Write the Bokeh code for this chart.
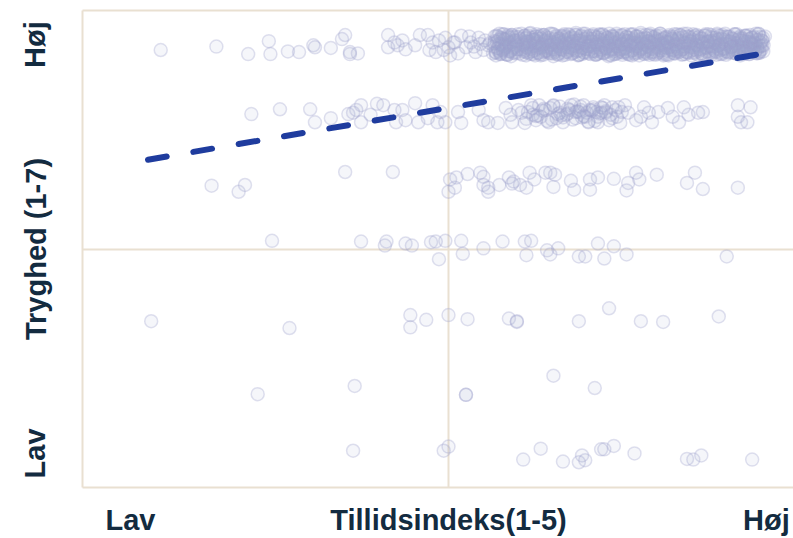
from bokeh.plotting import figure
from bokeh.models import FixedTicker, LinearAxis, Range1d
from bokeh.embed import file_html
from bokeh.resources import INLINE

# ---- data: Tillidsindeks (x, 1-5) and Tryghed (y, 1-7, jittered) ----
x_row7 = [1.19, 1.54, 1.74, 1.87, 1.88, 1.99, 2.06, 2.15, 2.16, 2.26, 2.35, 2.33, 2.38, 2.38,
          2.43, 2.62, 2.62, 2.66, 2.68, 2.71, 2.73, 2.79, 2.82, 2.87, 2.88, 2.90, 2.92, 2.94,
          2.97, 2.98, 3.00, 3.01, 3.03, 3.04, 3.06, 3.08, 3.11, 3.13, 3.14, 3.16, 3.17, 3.19,
          3.20, 3.22, 3.23, 3.25, 3.26, 3.28]
y_row7 = [6.92, 6.97, 6.86, 7.05, 6.86, 6.90, 6.89, 6.99, 6.96, 6.95, 7.14, 7.08, 6.89, 6.86,
          6.87, 7.14, 6.96, 7.03, 6.99, 7.06, 6.93, 6.99, 7.14, 7.14, 6.92, 7.03, 6.89, 7.06,
          6.92, 7.10, 6.96, 6.84, 7.03, 7.03, 6.87, 7.13, 6.96, 7.12, 7.03, 6.97, 6.89, 7.10,
          7.01, 6.92, 7.06, 6.99, 7.02, 6.87]

x_row7_dense = [
    3.29, 3.30, 3.31, 3.31, 3.32, 3.33, 3.34, 3.34, 3.35, 3.36, 3.37, 3.38, 3.38, 3.39, 3.40, 3.41, 3.42, 3.42, 3.43, 3.44,
    3.46, 3.48, 3.49, 3.50, 3.50, 3.51, 3.52, 3.53, 3.54, 3.54, 3.55, 3.56, 3.57, 3.58, 3.58, 3.59, 3.60, 3.61, 3.61, 3.62,
    3.63, 3.64, 3.65, 3.65, 3.66, 3.67, 3.68, 3.69, 3.69, 3.70, 3.71, 3.72, 3.73, 3.73, 3.74, 3.75, 3.76, 3.77, 3.77, 3.78,
    3.79, 3.80, 3.81, 3.81, 3.82, 3.83, 3.84, 3.85, 3.85, 3.86, 3.87, 3.88, 3.89, 3.89, 3.90, 3.91, 3.92, 3.93, 3.93, 3.94,
    3.95, 3.96, 3.97, 3.97, 3.98, 3.99, 4.00, 4.01, 4.01, 4.02, 4.03, 4.04, 4.05, 4.05, 4.06, 4.07, 4.08, 4.09, 4.09, 4.10,
    4.11, 4.12, 4.13, 4.13, 4.14, 4.15, 4.16, 4.17, 4.17, 4.18, 4.19, 4.20, 4.21, 4.21, 4.22, 4.23, 4.24, 4.25, 4.25, 4.26,
    4.27, 4.28, 4.29, 4.29, 4.30, 4.31, 4.32, 4.33, 4.33, 4.34, 4.35, 4.36, 4.37, 4.37, 4.38, 4.39, 4.40, 4.41, 4.41, 4.42,
    4.43, 4.44, 4.45, 4.46, 4.47, 4.48, 4.49, 4.50, 4.51, 4.52, 4.53, 4.54, 4.55, 4.56, 4.57, 4.58, 4.59, 4.60, 4.61, 4.62,
    4.63, 4.64, 4.65, 4.66, 4.67, 4.68, 4.69, 4.70, 4.71, 4.72, 4.73, 4.74, 4.75, 4.76, 4.77, 4.78, 4.79, 4.80, 4.81, 4.82,
    4.83, 4.84, 4.85, 4.86, 4.87, 4.88, 4.89, 4.90, 4.91, 4.92, 4.93, 4.94, 4.95, 4.96, 4.97, 4.98, 4.99, 4.85, 4.90, 4.95]
y_row7_dense = [
    7.05, 6.88, 7.12, 6.95, 7.01, 6.86, 7.15, 6.92, 7.08, 6.97, 6.85, 7.10, 7.03, 6.90, 7.14, 6.94, 7.06, 6.87, 6.99, 7.11,
    6.93, 7.13, 6.89, 7.04, 6.98, 7.16, 6.86, 7.07, 6.91, 7.02, 7.12, 6.88, 6.96, 7.09, 6.84, 7.00, 7.14, 6.90, 7.06, 6.95,
    7.10, 6.87, 7.03, 6.93, 7.15, 6.89, 7.01, 7.08, 6.85, 6.97, 7.13, 6.92, 7.05, 6.88, 7.11, 6.96, 7.02, 6.86, 7.09, 6.94,
    6.99, 7.14, 6.91, 7.06, 6.85, 7.12, 6.95, 7.03, 6.89, 7.16, 6.98, 6.87, 7.08, 6.93, 7.04, 7.13, 6.90, 7.00, 6.86, 7.11,
    7.07, 6.92, 7.15, 6.88, 7.02, 6.96, 7.10, 6.85, 7.05, 6.94, 7.13, 6.90, 6.99, 7.09, 6.87, 7.04, 6.93, 7.14, 6.89, 7.01,
    6.95, 7.11, 6.86, 7.06, 7.00, 6.91, 7.15, 6.88, 7.03, 6.97, 7.12, 6.84, 7.08, 6.94, 7.02, 6.89, 7.14, 6.98, 6.87, 7.05,
    7.13, 6.90, 7.04, 6.86, 7.09, 6.95, 7.01, 7.16, 6.92, 7.07, 6.88, 6.99, 7.11, 6.85, 7.03, 6.96, 7.10, 6.91, 7.06, 6.87,
    6.97, 7.08, 6.89, 7.14, 6.93, 7.02, 6.86, 7.12, 6.98, 7.05, 6.91, 7.15, 6.88, 7.00, 7.10, 6.94, 7.04, 6.85, 7.13, 6.96,
    7.03, 6.87, 7.11, 6.95, 7.06, 6.90, 7.14, 6.99, 6.86, 7.08, 6.93, 7.01, 7.12, 6.89, 7.05, 6.97, 6.88, 7.15, 6.92, 7.07,
    6.91, 7.09, 7.00, 6.86, 7.13, 6.96, 7.04, 6.89, 7.10, 6.94, 7.02, 6.87, 7.16, 6.98, 7.06, 6.90, 7.12, 6.95, 7.03, 6.88]

x_row7_dense2 = [
    3.285, 3.291, 3.299, 3.305, 3.314, 3.320, 3.327, 3.333, 3.341, 3.347,
    3.353, 3.362, 3.367, 3.374, 3.381, 3.389, 3.394, 3.402, 3.409, 3.415,
    3.421, 3.430, 3.436, 3.441, 3.452, 3.466, 3.472, 3.478, 3.483, 3.486,
    3.489, 3.497, 3.503, 3.511, 3.516, 3.524, 3.531, 3.537, 3.545, 3.551,
    3.557, 3.563, 3.571, 3.578, 3.584, 3.590, 3.598, 3.605, 3.611, 3.618,
    3.625, 3.632, 3.638, 3.646, 3.652, 3.659, 3.666, 3.672, 3.679, 3.686,
    3.693, 3.699, 3.707, 3.713, 3.720, 3.727, 3.733, 3.741, 3.747, 3.754,
    3.761, 3.768, 3.774, 3.781, 3.788, 3.795, 3.801, 3.809, 3.815, 3.822,
    3.829, 3.836, 3.842, 3.849, 3.856, 3.862, 3.870, 3.876, 3.883, 3.890,
    3.897, 3.903, 3.911, 3.917, 3.924, 3.931, 3.938, 3.944, 3.951, 3.958,
    3.965, 3.972, 3.978, 3.985, 3.992, 3.999, 4.006, 4.012, 4.019, 4.026,
    4.033, 4.040, 4.046, 4.053, 4.060, 4.067, 4.073, 4.080, 4.087, 4.094,
    4.101, 4.108, 4.114, 4.121, 4.128, 4.135, 4.141, 4.148, 4.155, 4.162,
    4.169, 4.176, 4.182, 4.189, 4.196, 4.203, 4.209, 4.216, 4.223, 4.230,
    4.237, 4.244, 4.250, 4.257, 4.264, 4.271, 4.277, 4.284, 4.291, 4.298,
    4.305, 4.312, 4.318, 4.325, 4.332, 4.339, 4.345, 4.352, 4.359, 4.366,
    4.373, 4.380, 4.386, 4.393, 4.400, 4.407, 4.413, 4.420, 4.427, 4.434,
    4.441, 4.448, 4.454, 4.461, 4.468, 4.475, 4.481, 4.488, 4.495, 4.502,
    4.509, 4.516, 4.522, 4.529, 4.536, 4.543, 4.549, 4.556, 4.563, 4.570,
    4.577, 4.584, 4.590, 4.597, 4.604, 4.611, 4.617, 4.624, 4.631, 4.638,
    4.645, 4.652, 4.658, 4.665, 4.672, 4.679, 4.685, 4.692, 4.699, 4.706,
    4.713, 4.720, 4.726, 4.733, 4.740, 4.747, 4.753, 4.760, 4.767, 4.774,
    4.781, 4.788, 4.794, 4.801, 4.808, 4.815, 4.821, 4.828, 4.835, 4.842,
    4.849, 4.856, 4.862, 4.869, 4.876, 4.883, 4.889, 4.896, 4.903, 4.910,
    4.917, 4.924, 4.930, 4.937, 4.944, 4.951, 4.957, 4.964, 4.971, 4.978]
y_row7_dense2 = [
    6.97, 7.12, 6.84, 7.04, 6.91, 7.16, 6.88, 7.01, 7.09, 6.94,
    7.07, 6.86, 6.99, 7.14, 6.90, 7.03, 6.83, 7.11, 6.96, 7.06,
    6.89, 7.02, 7.15, 6.93, 7.08, 6.85, 7.00, 7.13, 6.92, 7.05,
    7.10, 6.95, 6.87, 7.04, 7.17, 6.90, 6.98, 7.07, 6.84, 7.12,
    6.94, 7.09, 7.01, 6.86, 7.14, 6.97, 6.89, 7.05, 7.11, 6.92,
    7.03, 6.88, 7.16, 6.95, 7.00, 6.83, 7.08, 6.91, 7.13, 6.98,
    6.87, 7.06, 6.93, 7.11, 6.99, 7.15, 6.85, 7.02, 6.90, 7.09,
    7.14, 6.96, 7.04, 6.88, 7.10, 6.92, 7.17, 6.97, 6.84, 7.06,
    6.91, 7.13, 6.86, 7.01, 7.08, 6.94, 7.12, 6.89, 7.03, 6.98,
    7.05, 6.90, 7.15, 6.96, 6.85, 7.10, 7.00, 6.87, 7.14, 6.93,
    6.99, 7.07, 6.88, 7.12, 6.95, 7.03, 6.83, 7.16, 6.92, 7.08,
    7.11, 6.86, 7.02, 6.97, 7.13, 6.89, 7.06, 6.94, 7.00, 6.85,
    6.93, 7.15, 6.90, 7.05, 6.87, 7.10, 6.98, 7.14, 6.84, 7.02,
    7.08, 6.95, 7.12, 6.88, 7.01, 6.92, 7.17, 6.96, 7.04, 6.86,
    6.90, 7.09, 6.97, 7.14, 6.85, 7.03, 6.94, 7.11, 6.89, 7.06,
    7.13, 6.87, 7.05, 6.99, 7.16, 6.91, 7.02, 6.84, 7.10, 6.96,
    6.95, 7.04, 6.86, 7.12, 6.93, 7.08, 6.88, 7.15, 7.00, 6.90,
    7.06, 6.92, 7.14, 6.97, 6.85, 7.11, 6.94, 7.03, 6.89, 7.16,
    6.88, 7.10, 7.01, 6.84, 7.07, 6.96, 7.13, 6.91, 7.05, 6.98,
    7.12, 6.93, 6.87, 7.09, 7.02, 6.86, 7.15, 6.95, 7.04, 6.90,
    6.97, 7.14, 6.89, 7.03, 6.92, 7.10, 6.85, 7.07, 6.99, 7.13,
    7.01, 6.86, 7.11, 6.94, 7.16, 6.90, 7.05, 6.88, 7.12, 6.96,
    6.92, 7.08, 6.98, 7.15, 6.87, 7.02, 6.95, 7.10, 6.84, 7.06,
    7.09, 6.91, 7.13, 6.89, 7.04, 6.97, 6.86, 7.14, 6.93, 7.01,
    6.96, 7.11, 6.88, 7.07, 6.94, 7.15, 6.90, 7.03, 6.98, 7.10]

x_row7_dense3 = [
    3.288, 3.296, 3.302, 3.310, 3.317, 3.324, 3.330, 3.338, 3.344, 3.350,
    3.356, 3.364, 3.370, 3.378, 3.385, 3.392, 3.398, 3.406, 3.412, 3.418,
    3.424, 3.432, 3.438, 3.446, 3.460, 3.468, 3.474, 3.480, 3.484, 3.488,
    3.492, 3.500, 3.506, 3.514, 3.521, 3.528, 3.534, 3.542, 3.548, 3.554,
    3.560, 3.568, 3.574, 3.582, 3.589, 3.596, 3.602, 3.610, 3.616, 3.622,
    3.628, 3.636, 3.642, 3.650, 3.657, 3.664, 3.670, 3.678, 3.684, 3.690,
    3.696, 3.704, 3.710, 3.718, 3.725, 3.732, 3.738, 3.746, 3.752, 3.758,
    3.764, 3.772, 3.778, 3.786, 3.793, 3.800, 3.806, 3.814, 3.820, 3.826,
    3.832, 3.840, 3.846, 3.854, 3.861, 3.868, 3.874, 3.882, 3.888, 3.894,
    3.900, 3.908, 3.914, 3.922, 3.929, 3.936, 3.942, 3.950, 3.956, 3.962,
    3.968, 3.976, 3.982, 3.990, 3.997, 4.004, 4.010, 4.018, 4.024, 4.030,
    4.036, 4.044, 4.050, 4.058, 4.065, 4.072, 4.078, 4.086, 4.092, 4.098,
    4.104, 4.112, 4.118, 4.126, 4.133, 4.140, 4.146, 4.154, 4.160, 4.166,
    4.172, 4.180, 4.186, 4.194, 4.201, 4.208, 4.214, 4.222, 4.228, 4.234,
    4.240, 4.248, 4.254, 4.262, 4.269, 4.276, 4.282, 4.290, 4.296, 4.302,
    4.308, 4.316, 4.322, 4.330, 4.337, 4.344, 4.350, 4.358, 4.364, 4.370,
    4.376, 4.384, 4.390, 4.398, 4.405, 4.412, 4.418, 4.426, 4.432, 4.438,
    4.444, 4.452, 4.458, 4.466, 4.473, 4.480, 4.486, 4.494, 4.500, 4.506,
    4.512, 4.520, 4.526, 4.534, 4.541, 4.548, 4.554, 4.562, 4.568, 4.574,
    4.580, 4.588, 4.594, 4.602, 4.609, 4.616, 4.622, 4.630, 4.636, 4.642,
    4.648, 4.656, 4.662, 4.670, 4.677, 4.684, 4.690, 4.698, 4.704, 4.710,
    4.716, 4.724, 4.730, 4.738, 4.745, 4.752, 4.758, 4.766, 4.772, 4.778,
    4.784, 4.792, 4.798, 4.806, 4.813, 4.820, 4.826, 4.834, 4.840, 4.846,
    4.852, 4.860, 4.866, 4.874, 4.881, 4.888, 4.894, 4.902, 4.908, 4.914,
    4.920, 4.928, 4.934, 4.942, 4.949, 4.956, 4.962, 4.970, 4.976, 4.982]
y_row7_dense3 = [
    7.02, 6.89, 7.13, 6.94, 7.07, 6.86, 7.10, 6.98, 6.91, 7.15,
    6.95, 7.08, 6.85, 7.12, 7.00, 6.92, 7.14, 6.88, 7.04, 6.97,
    7.11, 6.93, 7.06, 6.87, 7.16, 6.99, 6.90, 7.03, 7.09, 6.84,
    6.96, 7.13, 6.89, 7.01, 6.94, 7.10, 6.86, 7.07, 6.98, 7.15,
    7.04, 6.88, 7.12, 6.95, 7.00, 6.85, 7.14, 6.91, 7.08, 6.97,
    6.90, 7.06, 6.99, 7.16, 6.87, 7.03, 6.93, 7.11, 6.86, 7.05,
    7.09, 6.94, 7.02, 6.84, 7.13, 6.96, 7.07, 6.89, 7.15, 7.00,
    6.92, 7.11, 6.87, 7.05, 6.98, 7.14, 6.90, 7.02, 6.85, 7.09,
    7.06, 6.95, 7.16, 6.88, 7.03, 6.93, 7.10, 6.97, 7.13, 6.86,
    6.99, 7.08, 6.91, 7.12, 6.85, 7.04, 6.96, 7.15, 6.89, 7.01,
    7.14, 6.87, 7.05, 6.94, 7.10, 6.90, 6.98, 7.07, 6.84, 7.12,
    6.93, 7.03, 6.86, 7.16, 6.97, 7.09, 6.91, 7.01, 7.13, 6.88,
    7.07, 6.95, 7.11, 6.89, 7.04, 6.85, 7.15, 6.99, 6.92, 7.06,
    6.86, 7.12, 6.98, 7.03, 6.90, 7.14, 6.94, 7.08, 6.87, 7.00,
    7.10, 6.92, 7.05, 6.96, 7.16, 6.88, 7.02, 6.93, 7.11, 6.85,
    6.97, 7.07, 6.89, 7.13, 6.95, 7.01, 6.86, 7.09, 7.04, 6.91,
    7.03, 6.84, 7.14, 6.98, 7.08, 6.92, 7.12, 6.87, 7.00, 7.15,
    6.94, 7.10, 6.90, 7.05, 6.86, 7.16, 6.97, 7.02, 6.89, 7.07,
    7.12, 6.96, 7.04, 6.88, 7.11, 6.93, 6.99, 7.14, 6.85, 7.06,
    6.91, 7.09, 6.87, 7.02, 6.95, 7.13, 6.90, 7.05, 7.15, 6.98,
    7.05, 6.86, 7.10, 6.97, 7.03, 6.89, 7.16, 6.94, 7.08, 6.92,
    6.88, 7.14, 6.95, 7.07, 6.85, 7.01, 7.11, 6.90, 7.04, 6.96,
    7.09, 6.93, 7.02, 6.87, 7.15, 6.98, 6.91, 7.12, 6.95, 7.06,
    6.97, 7.04, 6.89, 7.13, 6.92, 7.08, 6.86, 7.01, 7.10, 6.94,
    7.03, 6.90, 7.16, 6.96, 7.07, 6.88, 7.11, 6.93, 7.05, 6.99]

x_row6 = [1.76, 1.94, 2.13, 2.16, 2.26, 2.37, 2.40, 2.42, 2.45, 2.45, 2.51, 2.55, 2.59, 2.66,
          2.67, 2.71, 2.73, 2.79, 2.81, 2.87, 2.90, 2.93, 2.95, 2.98, 3.06, 3.08, 3.19, 3.22,
          3.25, 3.31, 3.36, 3.39, 3.40, 3.44, 3.48, 3.52, 3.53, 3.55, 3.57, 3.61, 3.63, 3.66,
          3.70, 3.72, 3.76, 3.80, 3.83, 3.85, 3.87, 3.88, 3.91, 3.93, 3.94, 3.97, 3.99, 4.01,
          4.03, 4.06, 4.08, 4.11, 4.13, 4.18, 4.21, 4.23, 4.26, 4.28, 4.32, 4.38, 4.41, 4.45,
          4.48, 4.51, 4.57, 4.60, 4.82, 4.90, 4.82, 4.84, 4.88,
          3.50, 3.58, 3.64, 3.68, 3.74, 3.77, 3.82, 3.86, 3.89, 3.94, 3.96, 3.98, 4.02, 4.05, 4.09,
          3.55, 3.60, 3.65, 3.70, 3.75, 3.79, 3.84, 3.90, 3.92, 3.96, 3.71, 3.81,
          3.46, 3.49, 3.53, 3.56, 3.59, 3.62, 3.66, 3.69, 3.72, 3.75, 3.78, 3.80, 3.83, 3.85,
          3.88, 3.91, 3.95, 3.99, 4.03, 4.07]
y_row6 = [5.98, 6.05, 6.05, 5.86, 5.92, 5.98, 6.00, 6.04, 6.11, 5.86, 5.97, 6.13, 6.11, 6.04,
          5.86, 6.04, 5.89, 6.14, 5.86, 5.92, 6.11, 5.86, 6.01, 5.86, 6.01, 5.85, 6.04, 5.89,
          5.86, 5.85, 6.07, 5.97, 5.86, 6.04, 5.85, 6.11, 5.97, 5.89, 6.11, 6.04, 5.86, 6.11,
          6.00, 5.86, 6.04, 5.92, 6.04, 6.11, 6.00, 5.86, 6.08, 6.01, 5.94, 6.07, 6.00, 5.89,
          6.08, 5.94, 5.85, 6.11, 6.00, 5.89, 5.94, 6.08, 6.00, 5.86, 6.01, 6.07, 5.94, 5.86,
          6.08, 5.97, 6.00, 6.01, 6.11, 6.08, 5.94, 5.86, 5.86,
          6.01, 5.94, 6.07, 5.92, 5.97, 6.11, 6.01, 5.94, 6.04, 5.86, 6.00, 6.11, 5.97, 6.04, 6.01,
          5.95, 6.06, 5.90, 6.09, 5.99, 6.12, 5.93, 6.03, 5.88, 6.08, 5.96, 6.02,
          6.00, 5.91, 6.07, 5.96, 6.03, 5.88, 6.10, 5.98, 5.93, 6.06, 5.90, 6.01, 6.09, 5.95,
          5.87, 6.05, 5.99, 6.02, 5.92, 6.08]

x_row5 = [1.51, 1.68, 1.72, 2.35, 2.65, 3.01, 3.00, 3.04, 3.05, 3.12, 3.20, 3.22, 3.22, 3.25,
          3.25, 3.32, 3.38, 3.40, 3.41, 3.45, 3.49, 3.51, 3.54, 3.61, 3.64, 3.67, 3.66, 3.77,
          3.79, 3.89, 3.89, 3.94, 4.04, 4.12, 4.13, 4.18, 4.20, 4.31, 4.50, 4.55, 4.60, 4.82]
y_row5 = [4.93, 4.84, 4.94, 5.13, 5.13, 5.02, 4.84, 4.90, 5.05, 5.10, 5.12, 5.06, 4.94, 4.90,
          4.84, 4.94, 5.05, 4.96, 4.99, 4.94, 4.90, 5.12, 5.02, 5.12, 5.12, 5.09, 4.91, 5.00,
          4.87, 4.87, 5.02, 5.05, 5.03, 4.86, 4.97, 5.12, 5.02, 5.09, 4.97, 5.12, 4.88, 4.90]

x_row4 = [1.89, 2.45, 2.61, 2.60, 2.73, 2.77, 2.89, 2.92, 2.98, 3.08, 2.94, 3.09, 3.22, 3.34,
          3.48, 3.52, 3.49, 3.62, 3.64, 3.69, 3.82, 3.86, 3.94, 3.98, 4.04, 4.12, 4.75]
y_row4 = [4.12, 4.11, 4.11, 4.05, 4.08, 4.05, 4.10, 4.11, 4.12, 4.12, 3.85, 3.93, 4.01, 4.11,
          4.11, 4.12, 3.91, 3.98, 3.92, 4.01, 3.89, 3.89, 4.08, 3.86, 4.04, 3.92, 3.89]

x_row3 = [1.13, 2.00, 2.76, 2.76, 2.86, 3.00, 3.12, 3.38, 3.43, 3.43, 3.82, 4.01, 4.21, 4.35, 4.70]
y_row3 = [2.94, 2.84, 3.03, 2.85, 2.96, 3.03, 2.97, 2.98, 2.94, 2.93, 2.94, 3.13, 2.94, 2.93, 3.01]

x_row2 = [1.80, 2.41, 3.11, 3.11, 3.66, 3.92]
y_row2 = [1.87, 1.99, 1.86, 1.86, 2.14, 1.96]

x_row1 = [2.40, 2.97, 3.00, 3.47, 3.58, 3.72, 3.84, 3.82, 3.86, 3.98, 3.96, 4.04, 4.17,
          4.50, 4.54, 4.59, 4.91]
y_row1 = [1.04, 1.04, 1.10, 0.91, 1.07, 0.88, 0.97, 0.87, 0.90, 1.06, 1.06, 1.11, 1.00,
          0.92, 0.91, 0.97, 0.91]

# fitted trend line
trend_x = [1.11, 4.98]
trend_y = [5.31, 6.87]

x_ticks = [1, 3, 5]
x_tick_labels = ["Lav", "Tillidsindeks(1-5)", "Høj"]
y_ticks = [1, 4, 7]
y_tick_labels = ["Lav", "Tryghed (1-7)", "Høj"]

tillid = (x_row7 + x_row7_dense + x_row7_dense2 + x_row7_dense3 + x_row6 + x_row5
          + x_row4 + x_row3 + x_row2 + x_row1)
tryghed = (y_row7 + y_row7_dense + y_row7_dense2 + y_row7_dense3 + y_row6 + y_row5
           + y_row4 + y_row3 + y_row2 + y_row1)

# ---- styling ----
FONT = "Liberation Sans"
TXT = "#132b40"
FRAME = "#e9e0d1"
PT = "#9ea3cc"

p = figure(width=793, height=538,
           x_range=Range1d(0.698, 5.170), y_range=Range1d(0.5, 7.5),
           output_backend="svg", toolbar_location=None,
           min_border_left=82, min_border_right=0, min_border_top=10, min_border_bottom=49)
p.outline_line_color = None
p.background_fill_color = "white"
p.border_fill_color = "white"

# axes
p.xaxis.ticker = FixedTicker(ticks=x_ticks)
p.xaxis.major_label_overrides = {t: l for t, l in zip(x_ticks, x_tick_labels)}
p.yaxis.ticker = FixedTicker(ticks=y_ticks)
p.yaxis.major_label_overrides = {t: l for t, l in zip(y_ticks, y_tick_labels)}
p.yaxis.major_label_orientation = "vertical"
for ax in (p.xaxis, p.yaxis):
    ax.axis_line_color = FRAME
    ax.axis_line_width = 2
    ax.major_tick_line_color = None
    ax.minor_tick_line_color = None
    ax.major_tick_out = 0
    ax.major_tick_in = 0
    ax.major_label_text_font = FONT
    ax.major_label_text_font_style = "bold"
    ax.major_label_text_font_size = "29px"
    ax.major_label_text_color = TXT
p.xaxis.major_label_standoff = 16
p.yaxis.major_label_standoff = 31

top_axis = LinearAxis(ticker=FixedTicker(ticks=[]), axis_line_color=FRAME, axis_line_width=2,
                      major_tick_line_color=None, minor_tick_line_color=None,
                      major_tick_out=0, major_tick_in=0, major_label_standoff=0,
                      major_label_text_font_size="0px")
p.add_layout(top_axis, "above")

# grid: only the middle lines
p.xgrid.ticker = FixedTicker(ticks=[3])
p.ygrid.ticker = FixedTicker(ticks=[4])
p.grid.grid_line_color = FRAME
p.grid.grid_line_width = 2

p.scatter(tillid, tryghed, size=13, fill_color=PT, fill_alpha=0.1,
          line_color=PT, line_alpha=0.32, line_width=1.5)

p.line(trend_x, trend_y, line_color="#1f3c9e", line_width=6,
       line_dash="19 27", line_cap="round")

open("out.html", "w").write(file_html(p, INLINE))
